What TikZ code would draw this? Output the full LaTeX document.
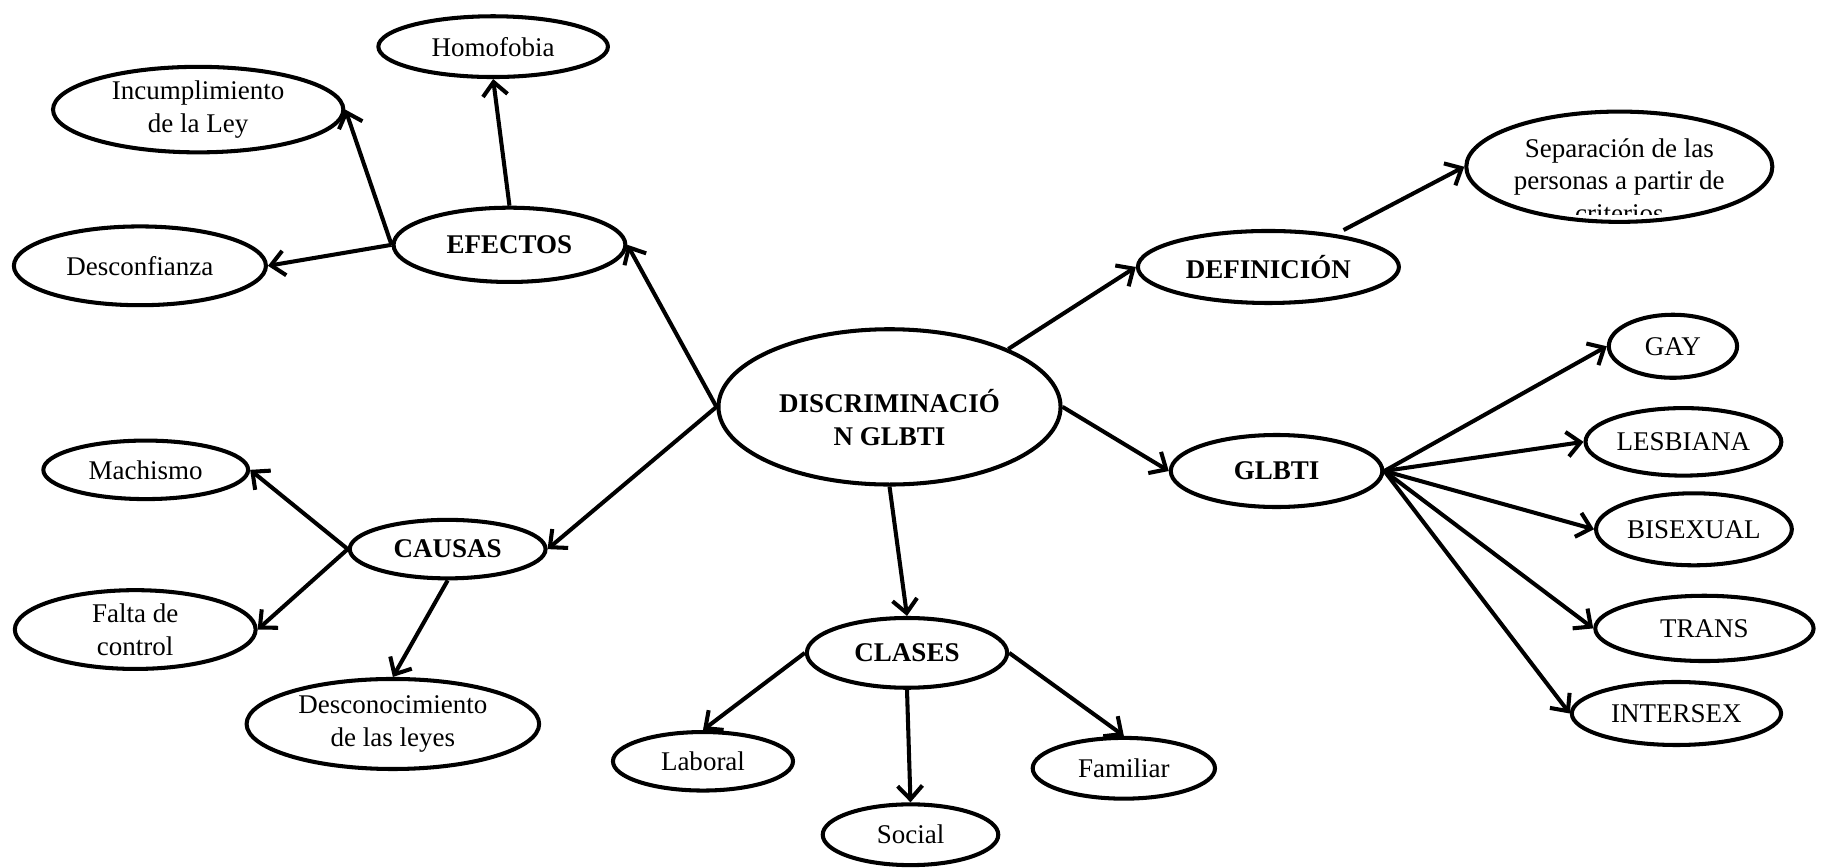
\documentclass[tikz,border=0pt,12pt]{standalone}
\usepackage{fontspec}
\setmainfont{Liberation Serif}
\usetikzlibrary{shapes.geometric,arrows.meta}
\tikzset{
idea/.style={
	  draw, ellipse, line width=1.8pt, inner sep=0pt, align=center},
topic/.style={idea, font=\bfseries},
link/.style={line width=1.8pt, -{Straight Barb[length=6pt,width=11pt]}}
}

\begin{document}
\begin{tikzpicture}[x=0.518pt, y=-0.518pt]
	\useasboundingbox (0,0) rectangle (1568,744);
	\node[topic, minimum width=152pt, minimum height=69pt] (disc) at (763,349) {\rule{0pt}{20pt}DISCRIMINACIÓ\\N GLBTI};
	\node[topic, minimum width=103pt, minimum height=33pt] (efectos) at (437,210) {EFECTOS};
	\node[topic, minimum width=87pt, minimum height=26pt] (causas) at (384,471) {CAUSAS};
	\node[topic, minimum width=89pt, minimum height=31pt] (clases) at (778,560) {CLASES};
	\node[topic, minimum width=116pt, minimum height=32pt] (definicion) at (1088,229) {DEFINICIÓN};
	\node[topic, minimum width=94pt, minimum height=32pt] (glbti) at (1095,404) {GLBTI};

	\node[idea, minimum width=102pt, minimum height=27pt] (homofobia) at (423,40) {Homofobia};
	\node[idea, minimum width=129pt, minimum height=38pt] (incumplimiento) at (170,94) {Incumplimiento\\de la Ley};
	\node[idea, minimum width=112pt, minimum height=35pt] (desconfianza) at (120,228) {Desconfianza};

	\node[idea, minimum width=91pt, minimum height=26pt] (machismo) at (125,403) {Machismo};
	\node[idea, minimum width=107pt, minimum height=35pt] (falta) at (116,540) {Falta de\\control};
	\node[idea, minimum width=130pt, minimum height=40pt] (desconocimiento) at (337,621) {Desconocimiento\\de las leyes};

	\node[idea, minimum width=80pt, minimum height=26pt] (laboral) at (603,653) {Laboral};
	\node[idea, minimum width=78pt, minimum height=27pt] (social) at (781,716) {Social};
	\node[idea, minimum width=81pt, minimum height=27pt] (familiar) at (964,659) {Familiar};

	\node[idea, minimum width=136pt, minimum height=49pt] (separacion) at (1389,143) {};
	\begin{scope}
		\clip (1250,95) rectangle (1530,184);
		\node[align=center] (separacion text) at (1389,155) {Separación de las\\personas a partir de\\criterios};
	\end{scope}

	\node[idea, minimum width=57pt, minimum height=28pt] (gay) at (1435,297) {GAY};
	\node[idea, minimum width=87pt, minimum height=30pt] (lesbiana) at (1444,379) {LESBIANA};
	\node[idea, minimum width=87pt, minimum height=32pt] (bisexual) at (1453,454) {BISEXUAL};
	\node[idea, minimum width=97pt, minimum height=29pt] (trans) at (1462,539) {TRANS};
	\node[idea, minimum width=93pt, minimum height=28pt] (intersex) at (1438,612) {INTERSEX};

	\draw[link] (disc.west) -- (efectos.east);
	\draw[link] (disc.west) -- (causas.east);
	\draw[link] (disc.26) -- (definicion.west);
	\draw[link] (disc.east) -- (glbti.west);
	\draw[link] (disc.south) -- (clases.north);

	\draw[link] (efectos.north) -- (homofobia.south);
	\draw[link] (efectos.west) -- (incumplimiento.east);
	\draw[link] (efectos.west) -- (desconfianza.east);

	\draw[link] (causas.west) -- (machismo.east);
	\draw[link] (causas.west) -- (falta.east);
	\draw[link] (causas.south) -- (desconocimiento.north);

	\draw[link] (clases.west) -- (laboral.north);
	\draw[link] (clases.south) -- (social.north);
	\draw[link] (clases.east) -- (familiar.north);

	\draw[link, shorten <=4pt] (definicion.26) -- (separacion.west);

	\draw[link] (glbti.east) -- (gay.west);
	\draw[link] (glbti.east) -- (lesbiana.west);
	\draw[link] (glbti.east) -- (bisexual.west);
	\draw[link] (glbti.east) -- (trans.west);
	\draw[link] (glbti.east) -- (intersex.west);
\end{tikzpicture}
\end{document}
